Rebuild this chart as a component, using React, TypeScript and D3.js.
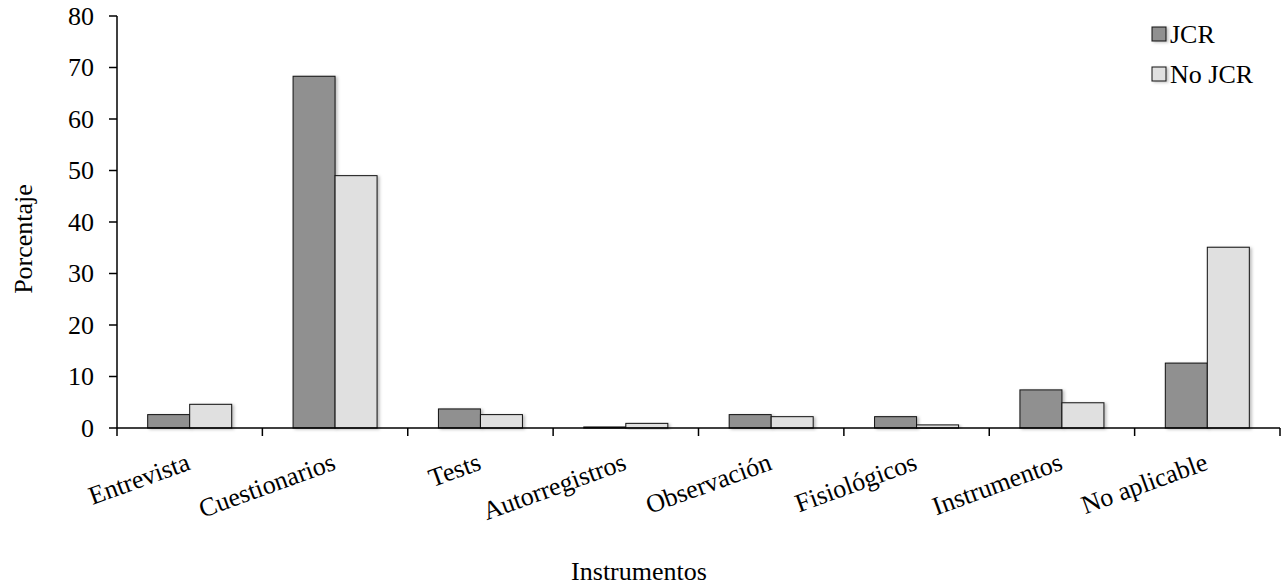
import React from "react";
import * as d3 from "d3";

const categories = [
  "Entrevista",
  "Cuestionarios",
  "Tests",
  "Autorregistros",
  "Observación",
  "Fisiológicos",
  "Instrumentos",
  "No aplicable",
];
const seriesNames = ["JCR", "No JCR"];
const jcrValues = [2.6, 68.3, 3.7, 0.2, 2.6, 2.2, 7.4, 12.6];
const noJcrValues = [4.6, 49.0, 2.6, 0.9, 2.2, 0.6, 4.9, 35.1];
const yTicks = [0, 10, 20, 30, 40, 50, 60, 70, 80];
const seriesColors = ["#909090", "#e0e0e0"];

const W = 1285;
const H = 586;
const FONT = "'Liberation Serif', 'Times New Roman', serif";

export default function App() {
  const x0 = 117;
  const x1 = 1280;
  const yTop = 16;
  const yBase = 428;

  const x = d3.scaleBand<string>().domain(categories).range([x0, x1]).padding(0);
  const step = x.step();
  const groupW = 84;
  const xs = d3
    .scaleBand<string>()
    .domain(seriesNames)
    .range([(step - groupW) / 2, (step + groupW) / 2])
    .padding(0);
  const y = d3.scaleLinear().domain([0, 80]).range([yBase, yTop]);

  const data = [jcrValues, noJcrValues];
  const tickPositions = d3.range(categories.length + 1).map((i) => x0 + i * step);

  return (
    <svg
      width={W}
      height={H}
      style={{ position: "absolute", left: 0, top: 0, background: "#fff" }}
      fontFamily={FONT}
    >
      <defs>
        <filter id="sh" x="-20%" y="-20%" width="150%" height="150%">
          <feDropShadow dx="2" dy="1" stdDeviation="1.5" floodColor="#000" floodOpacity="0.25" />
        </filter>
      </defs>

      {/* bars */}
      {categories.map((c, ci) =>
        seriesNames.map((s, si) => {
          const v = data[si][ci];
          const bx = (x(c) as number) + (xs(s) as number);
          const by = y(v);
          return (
            <rect
              key={c + s}
              x={bx}
              y={by}
              width={xs.bandwidth()}
              height={yBase - by}
              fill={seriesColors[si]}
              stroke="#111"
              strokeWidth={1}
              filter="url(#sh)"
            />
          );
        })
      )}

      {/* y axis */}
      <line x1={x0} x2={x0} y1={yTop} y2={yBase} stroke="#000" strokeWidth={1.5} />
      {yTicks.map((t) => (
        <g key={t}>
          <line x1={x0 - 8} x2={x0} y1={y(t)} y2={y(t)} stroke="#000" strokeWidth={1.5} />
          <text
            x={x0 - 23}
            y={y(t)}
            textAnchor="end"
            dominantBaseline="central"
            fontSize={26}
            fill="#000"
          >
            {t}
          </text>
        </g>
      ))}

      {/* x axis */}
      <line x1={x0} x2={x1} y1={yBase} y2={yBase} stroke="#000" strokeWidth={1.5} />
      {tickPositions.map((p, i) => (
        <line key={i} x1={p} x2={p} y1={yBase} y2={yBase + 8} stroke="#000" strokeWidth={1.5} />
      ))}
      {categories.map((c) => {
        const cx = (x(c) as number) + step / 2 + 2;
        const cy = 469;
        return (
          <text
            key={c}
            x={cx}
            y={cy}
            textAnchor="end"
            fontSize={26}
            transform={`rotate(-20, ${cx}, ${cy})`}
            fill="#000"
          >
            {c}
          </text>
        );
      })}

      {/* axis titles */}
      <text x={639} y={580} textAnchor="middle" fontSize={26} fill="#000">
        Instrumentos
      </text>
      <text
        x={32}
        y={239}
        textAnchor="middle"
        fontSize={26}
        transform="rotate(-90, 32, 239)"
        fill="#000"
      >
        Porcentaje
      </text>

      {/* legend */}
      {seriesNames.map((s, i) => (
        <g key={s}>
          <rect
            x={1152}
            y={27 + i * 40}
            width={14}
            height={14}
            fill={seriesColors[i]}
            stroke="#111"
            strokeWidth={1}
            filter="url(#sh)"
          />
          <text x={1170} y={43 + i * 40} fontSize={26} fill="#000">
            {s}
          </text>
        </g>
      ))}
    </svg>
  );
}
